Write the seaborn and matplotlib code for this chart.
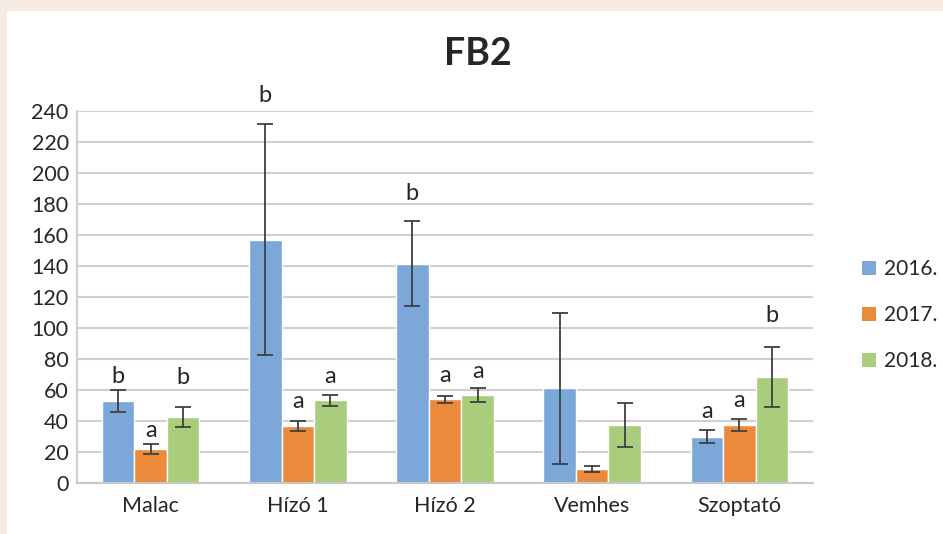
import matplotlib
matplotlib.use("Agg")
import matplotlib.pyplot as plt
import matplotlib.patches as mpatches
import seaborn as sns
import pandas as pd

categories = ["Malac", "Hízó 1", "Hízó 2", "Vemhes", "Szoptató"]
years = ["2016.", "2017.", "2018."]

# átlagok és szórások évenként
means_2016 = [53, 157, 141.5, 61, 30]
means_2017 = [22, 37, 54, 9, 37.5]
means_2018 = [42.5, 53.5, 57, 37.5, 68.5]
err_2016 = [7, 74.5, 27.5, 48.5, 4.5]
err_2017 = [3, 3.2, 2.4, 2, 4]
err_2018 = [6.5, 3.5, 4.6, 14, 19.3]

# betűjelek és magasságuk
letters_2016 = ["b", "b", "b", "", "a"]
letters_2017 = ["a", "a", "a", "", "a"]
letters_2018 = ["b", "a", "a", "", "b"]
letter_y_2016 = [69, 250, 187, 0, 46]
letter_y_2017 = [34, 52.7, 69.5, 0, 53.5]
letter_y_2018 = [68, 69, 72, 0, 108]

colors = ["#7ba7d9", "#ec8a3c", "#a9cc7d"]

df = pd.DataFrame({
    "cat": categories * 3,
    "year": [y for y in years for _ in categories],
    "value": means_2016 + means_2017 + means_2018,
})
errs = [err_2016, err_2017, err_2018]
letters = [letters_2016, letters_2017, letters_2018]
letter_y = [letter_y_2016, letter_y_2017, letter_y_2018]

sns.set_style("white")
plt.rcParams["font.family"] = ["Lato", "DejaVu Sans"]
txt = "#262626"

fig = plt.figure(figsize=(9.43, 5.34), dpi=100)
fig.patch.set_facecolor("white")
# bézs keret
fig.add_artist(mpatches.Rectangle((0, 1 - 11 / 534), 1, 11 / 534, transform=fig.transFigure,
                                  facecolor="#f5ebe2", edgecolor="none"))
fig.add_artist(mpatches.Rectangle((0, 0), 7 / 943, 1, transform=fig.transFigure,
                                  facecolor="#f5ebe2", edgecolor="none"))

ax = fig.add_axes([77 / 943, 51 / 534, 736 / 943, 372 / 534])
sns.barplot(data=df, x="cat", y="value", hue="year", palette=colors, width=0.664,
            gap=0, errorbar=None, saturation=1, ax=ax, legend=False, zorder=2)

bar_groups = list(ax.containers)
for i, cont in enumerate(bar_groups):
    for j, bar in enumerate(cont):
        xc = bar.get_x() + bar.get_width() / 2
        top = bar.get_height()
        ax.errorbar(xc, top, yerr=errs[i][j], color="#404040", capsize=5.5,
                    elinewidth=1.3, capthick=1.3, zorder=3)
        if letters[i][j]:
            ax.text(xc, letter_y[i][j], letters[i][j], ha="center", va="center",
                    fontsize=17, color=txt, clip_on=False)

ax.set_ylim(0, 240)
ax.set_xlim(-0.5, 4.5)
ax.set_yticks(range(0, 241, 20))
ax.yaxis.grid(True, color="#d0d0d0", linewidth=1.5, zorder=0)
ax.set_axisbelow(True)
for s in ["top", "right"]:
    ax.spines[s].set_visible(False)
ax.spines["left"].set_color("#d0d0d0")
ax.spines["left"].set_linewidth(1.5)
ax.spines["bottom"].set_color("#c8c8c8")
ax.spines["bottom"].set_linewidth(1.5)
ax.tick_params(length=0, labelsize=15.5, colors=txt)
ax.tick_params(axis="y", pad=6)
ax.tick_params(axis="x", pad=9)
ax.set_xlabel("")
ax.set_ylabel("")

fig.text(478 / 943, 1 - 54 / 534, "FB2", ha="center", va="center",
         fontsize=27, fontweight="bold", color=txt)

handles = [mpatches.Patch(facecolor=c, edgecolor="none") for c in colors]
fig.legend(handles, years, loc="center left", bbox_to_anchor=(852 / 943, 1 - 315 / 534),
           frameon=False, fontsize=15, handlelength=0.65, handleheight=0.65,
           handletextpad=0.4, labelspacing=1.25, borderpad=0, labelcolor=txt)

fig.savefig("out.png", dpi=100, facecolor="white")
